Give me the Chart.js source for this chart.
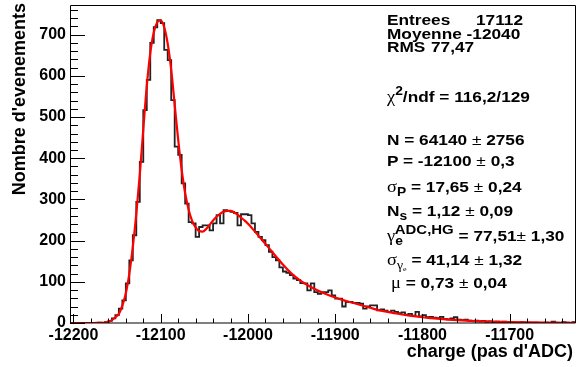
<!DOCTYPE html>
<html>
<head>
<meta charset="utf-8">
<script src="https://cdn.jsdelivr.net/npm/chart.js@4.4.1/dist/chart.umd.min.js"></script>
<style>
  body { margin: 0; background: #fff; }
  #wrap { position: relative; width: 576px; height: 367px; }
  .st {
    position: absolute; left: 387px;
    font: bold 15px "Liberation Sans", Arial, sans-serif;
    line-height: 16px; white-space: nowrap; color: #000;
    transform: scaleX(1.15); transform-origin: left center;
  }
  .gk { font-family: "Liberation Serif", serif; font-weight: normal; font-size: 16px; }
  .pm { font-weight: normal; }
  .st sup, .st sub { font-size: 12px; position: relative; vertical-align: baseline; }
  .st sup { top: -7px; }
  .st sub { top: 4px; }
  .axt {
    position: absolute; font: bold 18px "Liberation Sans", Arial, sans-serif;
    line-height: 18px; white-space: nowrap; color: #000;
  }
</style>
</head>
<body>
<div id="wrap">
  <canvas id="chart" width="576" height="367"></canvas>

  <!-- axis titles -->
  <div class="axt" style="left:260px;width:313px;top:342px;text-align:right">charge (pas d'ADC)</div>
  <div class="axt" style="left:9.5px;top:203px;width:200px;text-align:right;transform:rotate(-90deg);transform-origin:top left">Nombre d'evenements</div>

  <!-- stats / fit box -->
  <div class="st" style="top:12px">Entrees</div>
  <div class="st" style="top:12px;left:476px">17112</div>
  <div class="st" style="top:26px">Moyenne -12040</div>
  <div class="st" style="top:39px">RMS</div>
  <div class="st" style="top:39px;left:431px">77,47</div>
  <div class="st" style="top:89px"><span class="gk">χ</span><sup>2</sup>/ndf = 116,2/129</div>
  <div class="st" style="top:132px">N = 64140<span class="pm"> ± </span>2756</div>
  <div class="st" style="top:153px">P = -12100<span class="pm"> ± </span>0,3</div>
  <div class="st" style="top:179px"><span class="gk">σ</span><sub>P</sub> = 17,65<span class="pm"> ± </span>0,24</div>
  <div class="st" style="top:203px">N<sub>s</sub> = 1,12<span class="pm"> ± </span>0,09</div>
  <div class="st" style="top:228px"><span class="gk">γ</span><sub>e</sub><sup style="margin-left:-7px;font-size:13px">ADC,HG</sup> = 77,51<span class="pm">± </span>1,30</div>
  <div class="st" style="top:252px"><span class="gk">σ</span><sub class="gk" style="font-size:12px">γ<sub style="font-size:7px;top:2px">e</sub></sub> = 41,14<span class="pm"> ± </span>1,32</div>
  <div class="st" style="top:275px;left:391px"><span class="gk">μ</span> = 0,73<span class="pm"> ± </span>0,04</div>
</div>

<script>
// histogram binning (ADC counts)
const binLow = -12204;
const binHigh = -11624;
const binWidth = 4;

// bin contents (145 bins)
const counts = [
  0, 0, 0, 0, 0, 0, 0, 0, 1, 0,
  2, 5, 11, 19, 35, 55, 96, 152, 213, 294,
  391, 517, 590, 680, 718, 735, 728, 663, 638, 541,
  428, 408, 339, 290, 245, 242, 209, 233, 237, 237,
  225, 242, 262, 242, 274, 272, 270, 267, 237, 264,
  264, 262, 242, 221, 209, 201, 189, 173, 160, 152,
  135, 125, 122, 116, 108, 104, 97, 96, 79, 96,
  75, 71, 75, 75, 79, 67, 59, 59, 40, 51,
  51, 49, 49, 47, 35, 40, 43, 43, 31, 33,
  30, 27, 30, 27, 24, 26, 20, 22, 18, 27,
  16, 19, 14, 15, 13, 12, 15, 10, 9, 11,
  14, 8, 7, 8, 6, 5, 6, 4, 5, 3,
  4, 2, 3, 2, 3, 1, 2, 1, 0, 2,
  1, 1, 0, 1, 0, 0, 1, 0, 3, 1,
  0, 2, 1, 0, 2
];

// fitted curve, sampled from the red line
const fitX = [
  -12204, -12180, -12170, -12164, -12160, -12156, -12152, -12148, -12144, -12140,
  -12136, -12132, -12128, -12124, -12120, -12116, -12112, -12108, -12104, -12100,
  -12096, -12092, -12088, -12084, -12080, -12076, -12072, -12068, -12064, -12060,
  -12056, -12052, -12048, -12044, -12040, -12036, -12032, -12028, -12024, -12020,
  -12016, -12012, -12008, -12004, -12000, -11990, -11980, -11970, -11960, -11950,
  -11940, -11930, -11920, -11910, -11900, -11890, -11880, -11870, -11860, -11850,
  -11840, -11830, -11820, -11810, -11800, -11790, -11780, -11770, -11760, -11750,
  -11740, -11730, -11720, -11710, -11700, -11680, -11660, -11640, -11624
];
const fitY = [
  0, 0, 0.3, 1, 3, 7, 14, 22, 42, 72,
  120, 185, 265, 360, 470, 575, 655, 705, 730, 735,
  718, 678, 615, 530, 445, 372, 315, 275, 248, 232,
  223, 222, 228, 238, 249, 258, 265, 270, 272, 272,
  269, 263, 256, 249, 241, 217, 192, 167, 142, 120,
  103, 90, 79, 70, 62, 55, 49, 43, 37, 31,
  27, 23, 19.5, 16.5, 14, 12, 10, 8.3, 6.9, 5.7,
  4.7, 3.9, 3.2, 2.6, 2.1, 1.4, 0.9, 0.6, 0.45
];

const xTicks = [-12200, -12100, -12000, -11900, -11800, -11700];
const yTicks = [0, 100, 200, 300, 400, 500, 600, 700];
const yMax = 772;
const minorStep = 20;

const histPoints = counts.map((c, i) => ({ x: binLow + i * binWidth, y: c }));
histPoints.push({ x: binHigh, y: counts[counts.length - 1] });
const fitPoints = fitX.map((x, i) => ({ x: x, y: fitY[i] }));

const labelFont = { family: "'Liberation Sans', Arial, sans-serif", size: 16, weight: 'bold' };

// ROOT style frame with inward ticks
const frameTicks = {
  id: 'frameTicks',
  afterDatasetsDraw(chart) {
    const { ctx, chartArea: a, scales: { x, y } } = chart;
    ctx.save();
    ctx.strokeStyle = '#000';
    ctx.lineWidth = 1;
    ctx.beginPath();
    ctx.rect(a.left + 0.5, a.top + 0.5, a.right - a.left - 1, a.bottom - a.top - 0.5);
    // x ticks
    for (let v = -12200; v <= binHigh; v += minorStep) {
      const px = Math.round(x.getPixelForValue(v)) + 0.5;
      const len = xTicks.includes(v) ? 9 : 4.5;
      ctx.moveTo(px, a.bottom);
      ctx.lineTo(px, a.bottom - len);
    }
    // y ticks
    for (let v = 0; v <= yMax; v += minorStep) {
      const py = Math.round(y.getPixelForValue(v)) + 0.5;
      const len = yTicks.includes(v) ? 15 : 8;
      ctx.moveTo(a.left, py);
      ctx.lineTo(a.left + len, py);
    }
    ctx.stroke();
    ctx.restore();
  }
};

new Chart(document.getElementById('chart'), {
  type: 'line',
  data: {
    datasets: [
      {
        label: 'fit',
        data: fitPoints,
        borderColor: '#ff0000',
        borderWidth: 2.2,
        pointRadius: 0,
        cubicInterpolationMode: 'monotone',
        order: 0
      },
      {
        label: 'histo',
        data: histPoints,
        borderColor: '#222',
        borderWidth: 1.8,
        pointRadius: 0,
        stepped: true,
        order: 1
      }
    ]
  },
  options: {
    responsive: false,
    animation: false,
    devicePixelRatio: 1,
    layout: { padding: { top: 5, right: 0, left: 0, bottom: 0 } },
    plugins: { legend: { display: false }, tooltip: { enabled: false } },
    scales: {
      x: {
        type: 'linear',
        min: binLow,
        max: binHigh,
        afterBuildTicks: s => { s.ticks = xTicks.map(v => ({ value: v })); },
        afterFit: s => { s.height = 44; },
        grid: { display: false, drawTicks: false },
        border: { display: false },
        ticks: { font: labelFont, color: '#000', padding: 3, maxRotation: 0, autoSkip: false, callback: v => String(v) }
      },
      y: {
        min: 0,
        max: yMax,
        afterBuildTicks: s => { s.ticks = yTicks.map(v => ({ value: v })); },
        afterFit: s => { s.width = 70; s.paddingTop = 0; s.paddingBottom = 0; },
        grid: { display: false, drawTicks: false },
        border: { display: false },
        ticks: { font: labelFont, color: '#000', padding: 4, autoSkip: false, callback: v => String(v) }
      }
    }
  },
  plugins: [frameTicks]
});
</script>
</body>
</html>
